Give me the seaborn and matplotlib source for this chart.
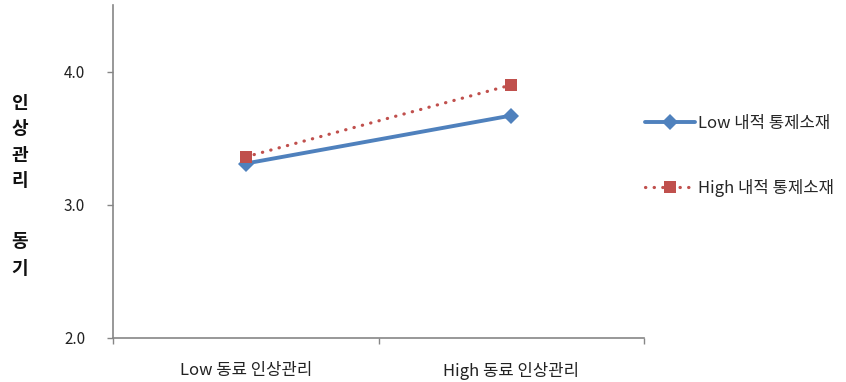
import matplotlib
matplotlib.use("Agg")
import matplotlib.pyplot as plt
import seaborn as sns
import pandas as pd
from matplotlib.ticker import FixedLocator, NullFormatter
from matplotlib.lines import Line2D

categories = ["Low 동료 인상관리", "High 동료 인상관리"]
series_names = ["Low 내적 통제소재", "High 내적 통제소재"]
low_values = [3.31, 3.67]
high_values = [3.36, 3.90]
y_ticks = [2.0, 3.0, 4.0]
y_label_chars = ["인", "상", "관", "리", "동", "기"]

sns.set_theme(style="white")
plt.rcParams["font.family"] = ["Noto Sans CJK KR", "DejaVu Sans"]

rows = []
for name, vals in zip(series_names, [low_values, high_values]):
    for i, (c, v) in enumerate(zip(categories, vals)):
        rows.append({"x": i, "cat": c, "value": v, "series": name})
df = pd.DataFrame(rows)

BLUE = "#4F81BD"
RED = "#C0504D"
DOT = (0, (0.1, 2.6))

fig = plt.figure(figsize=(8.46, 3.82), dpi=100)
ax = fig.add_axes([113 / 846, 1 - 338 / 382, (644 - 113) / 846, (338 - 5) / 382])

palette = {series_names[0]: BLUE, series_names[1]: RED}
sns.lineplot(
    data=df, x="x", y="value", hue="series", style="series",
    palette=palette,
    markers={series_names[0]: "D", series_names[1]: "s"},
    dashes={series_names[0]: "", series_names[1]: (0.1, 2.6)},
    markersize=9, linewidth=2.8, markeredgewidth=0, ax=ax, legend=False,
    hue_order=series_names, style_order=series_names,
)
lines = ax.get_lines()
lines[0].set_markersize(8.5)
lines[1].set_linewidth(2.3)
lines[1].set_dash_capstyle("round")

ax.set_xlim(-0.5, 1.5)
ax.set_ylim(2.0, 4.5)
ax.set_yticks(y_ticks)
ax.set_yticklabels([f"{t:.1f}" for t in y_ticks], fontsize=11, color="#222222")
ax.xaxis.set_major_locator(FixedLocator([-0.5, 0.5, 1.5]))
ax.xaxis.set_major_formatter(NullFormatter())
ax.xaxis.set_minor_locator(FixedLocator([0, 1]))
ax.set_xticklabels(categories, minor=True, fontsize=12, color="#222222")
ax.tick_params(axis="x", which="minor", length=0, pad=17)
ax.tick_params(axis="x", which="major", length=4, width=1, color="#868686", direction="out", bottom=True)
ax.tick_params(axis="y", length=4, width=1, color="#868686", direction="out", pad=16, left=True)
ax.set_xlabel("")
ax.set_ylabel("")
for s in ["top", "right"]:
    ax.spines[s].set_visible(False)
for s in ["left", "bottom"]:
    ax.spines[s].set_color("#868686")
    ax.spines[s].set_linewidth(1.2)

# vertical y-axis label (stacked characters)
y_positions = [103, 129, 155, 181, 242, 268]
for ch, yp in zip(y_label_chars, y_positions):
    fig.text(20 / 846, 1 - yp / 382, ch, fontsize=13, fontweight="bold",
             ha="center", va="center", color="#111111")

# legend
handles = [
    Line2D([], [], color=BLUE, lw=2.8, marker="D", markersize=8.5, markeredgewidth=0),
    Line2D([], [], color=RED, lw=2.3, marker="s", markersize=9, markeredgewidth=0,
           linestyle=DOT, dash_capstyle="round"),
]
fig.legend(handles, series_names, loc="center left",
           bbox_to_anchor=(630 / 846, 1 - 156 / 382), frameon=False,
           fontsize=12, handlelength=3.0, handletextpad=0.2, labelspacing=2.8)

fig.savefig("out.png", dpi=100, facecolor="white")
